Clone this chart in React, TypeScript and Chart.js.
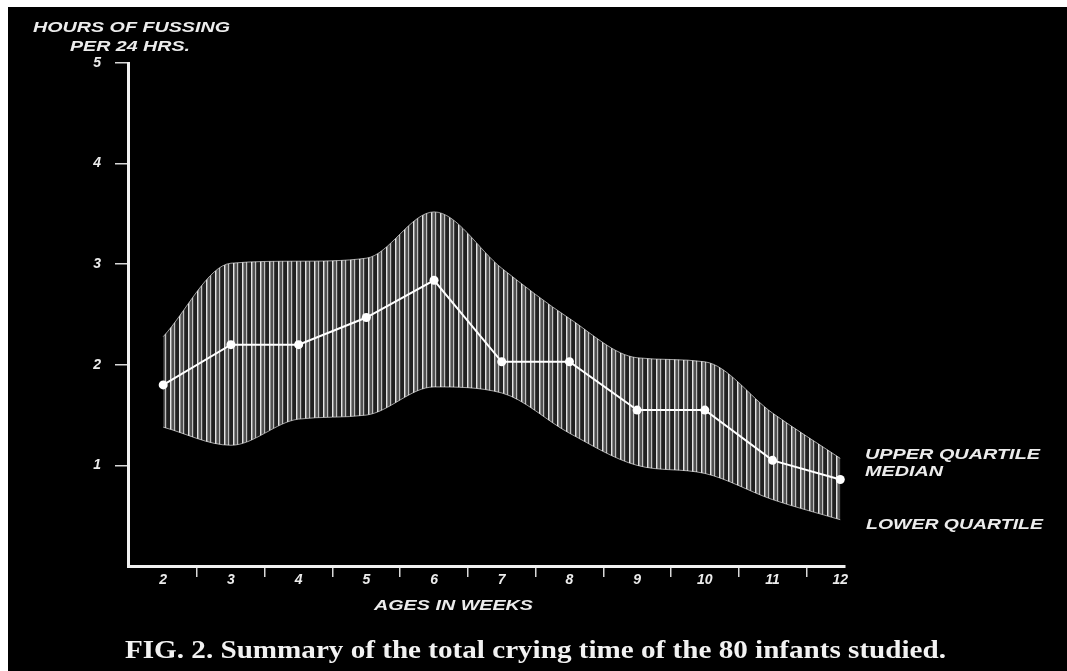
import React, { useEffect, useRef } from "react";
import { Chart, registerables } from "chart.js";

Chart.register(...registerables);

const weeks = [2, 3, 4, 5, 6, 7, 8, 9, 10, 11, 12];
const upperQuartile = [2.28, 3.01, 3.03, 3.06, 3.52, 2.96, 2.46, 2.07, 2.03, 1.52, 1.07];
const median = [1.8, 2.2, 2.2, 2.47, 2.84, 2.03, 2.03, 1.55, 1.55, 1.05, 0.86];
const lowerQuartile = [1.38, 1.2, 1.46, 1.5, 1.78, 1.72, 1.32, 1.0, 0.92, 0.66, 0.46];
const yTicks = [1, 2, 3, 4, 5];

const yTitleLines = ["HOURS OF FUSSING", "PER 24 HRS."];
const xTitle = "AGES IN WEEKS";
const seriesLabels = ["UPPER QUARTILE", "MEDIAN", "LOWER QUARTILE"];
const caption = "FIG. 2. Summary of the total crying time of the 80 infants studied.";

const OX = 8;
const OY = 7;
const W = 1059;
const H = 664;

function fitText(ctx: CanvasRenderingContext2D, text: string, px: number, py: number, width: number, font: string, color: string) {
  ctx.save();
  ctx.font = font;
  ctx.fillStyle = color;
  ctx.textAlign = "left";
  ctx.textBaseline = "middle";
  const m = ctx.measureText(text).width;
  ctx.translate(px - OX, py - OY);
  ctx.scale(width / m, 1);
  ctx.fillText(text, 0, 0);
  ctx.restore();
}

const textPlugin = {
  id: "figText",
  afterDraw(chart: any) {
    const ctx = chart.ctx as CanvasRenderingContext2D;
    const sans = "italic bold 14px 'Liberation Sans', Arial, sans-serif";
    const col = "#ececec";
    fitText(ctx, yTitleLines[0], 33, 28, 197, sans, col);
    fitText(ctx, yTitleLines[1], 70, 47, 120, sans, col);
    fitText(ctx, xTitle, 374, 606, 159, sans, col);
    fitText(ctx, seriesLabels[0], 865, 455, 175, sans, col);
    fitText(ctx, seriesLabels[1], 865, 472, 78, sans, col);
    fitText(ctx, seriesLabels[2], 866, 525, 177, sans, col);
    fitText(ctx, caption, 125, 651, 821, "bold 26px 'Liberation Serif', 'Times New Roman', serif", "#f2f2f2");
  },
};

function makePattern(): CanvasPattern | string {
  const c = document.createElement("canvas");
  c.width = 9;
  c.height = 4;
  const g = c.getContext("2d");
  if (!g) return "rgba(255,255,255,0.4)";
  g.fillStyle = "rgba(255,255,255,0.13)";
  g.fillRect(0, 0, 9, 4);
  g.fillStyle = "rgba(255,255,255,0.22)";
  g.fillRect(1, 0, 3, 4);
  g.fillStyle = "rgba(255,255,255,0.88)";
  g.fillRect(0, 0, 1.4, 4);
  g.fillStyle = "rgba(255,255,255,0.72)";
  g.fillRect(4, 0, 1.2, 4);
  const p = g.createPattern(c, "repeat");
  return p || "rgba(255,255,255,0.4)";
}

export default function App() {
  const ref = useRef<HTMLCanvasElement>(null);

  useEffect(() => {
    if (!ref.current) return;
    const pattern = makePattern();
    const pts = (arr: number[]) => weeks.map((w, i) => ({ x: w, y: arr[i] }));
    const tickFont = { family: "'Liberation Sans', Arial, sans-serif", size: 14, style: "italic" as const, weight: "bold" as const };
    const chart = new Chart(ref.current, {
      type: "line",
      data: {
        datasets: [
          {
            label: "Upper quartile",
            data: pts(upperQuartile),
            borderColor: "rgba(255,255,255,0.6)",
            borderWidth: 1,
            pointRadius: 0,
            tension: 0.4,
            cubicInterpolationMode: "monotone",
            fill: "+1",
            backgroundColor: pattern as any,
            order: 1,
          },
          {
            label: "Lower quartile",
            data: pts(lowerQuartile),
            borderColor: "rgba(255,255,255,0.6)",
            borderWidth: 1,
            pointRadius: 0,
            tension: 0.4,
            cubicInterpolationMode: "monotone",
            fill: false,
            order: 2,
          },
          {
            label: "Median",
            data: pts(median),
            borderColor: "#ffffff",
            borderWidth: 2,
            pointRadius: 4.5,
            pointBackgroundColor: "#ffffff",
            pointBorderColor: "#ffffff",
            pointBorderWidth: 0,
            tension: 0,
            fill: false,
            order: 0,
          },
        ],
      },
      options: {
        responsive: false,
        animation: false,
        events: [],
        layout: { padding: { left: 0, top: 56, right: 222, bottom: 0 } },
        plugins: {
          legend: { display: false },
          tooltip: { enabled: false },
        },
        scales: {
          x: {
            type: "linear",
            min: 1.48,
            max: 12.07,
            afterBuildTicks(scale: any) {
              const t: { value: number }[] = [];
              weeks.forEach((w, i) => {
                t.push({ value: w });
                if (i < weeks.length - 1) t.push({ value: w + 0.5 });
              });
              scale.ticks = t;
            },
            afterFit(scale: any) {
              scale.height = 105;
            },
            border: { display: true, color: "#f0f0f0", width: 3 },
            grid: {
              display: true,
              drawOnChartArea: false,
              drawTicks: true,
              tickLength: 11,
              lineWidth: 1.5,
              color: (c: any) =>
                c.tick && !Number.isInteger(c.tick.value) ? "#d8d8d8" : "rgba(0,0,0,0)",
            },
            ticks: {
              autoSkip: false,
              maxRotation: 0,
              padding: -5,
              color: "#ececec",
              font: tickFont,
              callback: (v: any) => (Number.isInteger(v) ? String(v) : ""),
            },
          },
          y: {
            type: "linear",
            min: 0,
            max: 5,
            afterBuildTicks(scale: any) {
              scale.ticks = yTicks.map((v) => ({ value: v }));
            },
            afterFit(scale: any) {
              scale.width = 120;
            },
            border: { display: true, color: "#f0f0f0", width: 3 },
            grid: {
              display: true,
              drawOnChartArea: false,
              drawTicks: true,
              tickLength: 13,
              lineWidth: 1.5,
              color: "#d8d8d8",
            },
            ticks: {
              padding: 14,
              color: "#ececec",
              font: tickFont,
              callback: (v: any) => String(v),
            },
          },
        },
      },
      plugins: [textPlugin],
    });
    return () => chart.destroy();
  }, []);

  return (
    <div
      style={{
        position: "fixed",
        left: OX,
        top: OY,
        width: W,
        height: H,
        background: "#000",
      }}
    >
      <canvas ref={ref} width={W} height={H} style={{ display: "block", width: W, height: H }} />
    </div>
  );
}
